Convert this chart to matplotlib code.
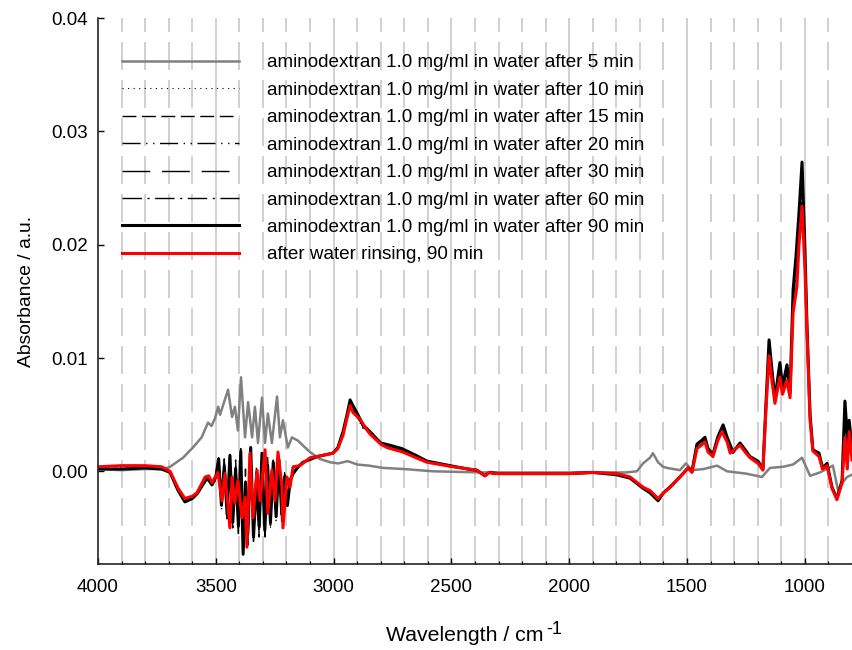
import matplotlib
matplotlib.use('Agg')
import matplotlib.pyplot as plt
from matplotlib.ticker import MultipleLocator, FormatStrFormatter

plt.rcParams['font.family'] = ['Liberation Sans', 'DejaVu Sans']

# aminodextran 5 min (grey)
wn_5 = [4000, 3900, 3800, 3720, 3694, 3639, 3597, 3560, 3533, 3518,
        3503, 3490, 3482, 3448, 3431, 3419, 3406, 3393, 3376, 3363,
        3346, 3334, 3321, 3304, 3291, 3279, 3262, 3240, 3228, 3215,
        3194, 3177, 3151, 3121, 3100, 3060, 3015, 2980, 2940,
        2900, 2850, 2790, 2700, 2578, 2366, 2200, 2000, 1870, 1760,
        1713, 1687, 1657, 1645, 1623, 1602, 1585, 1530, 1505, 1479,
        1430, 1373, 1330, 1250, 1182, 1148, 1093, 1050, 1012, 978,
        936, 881, 859, 840, 821, 800]
a_5 = [0.0002, 0.0001, 0.0002, 0.0002, 0.0004, 0.0012, 0.0021, 0.0030, 0.0043, 0.0040,
       0.0047, 0.0057, 0.0050, 0.0072, 0.0048, 0.0057, 0.0036, 0.0083, 0.0030, 0.0061,
       0.0030, 0.0057, 0.0025, 0.0065, 0.0025, 0.0051, 0.0025, 0.0066, 0.0030, 0.0045,
       0.0021, 0.0030, 0.0027, 0.0021, 0.0017, 0.0011, 0.0008, 0.0007, 0.0009,
       0.0006, 0.0005, 0.0003, 0.0002, 0.0000, -0.0001, -0.0001, -0.0001, -0.0001, -0.0001,
       0.0000, 0.0007, 0.0012, 0.0016, 0.0008, 0.0004, 0.0003, 0.0001, 0.0007, 0.0001,
       0.0002, 0.0005, 0.0000, -0.0002, -0.0005, 0.0003, 0.0004, 0.0006, 0.0012, -0.0004,
       -0.0001, 0.0005, -0.0017, -0.0010, -0.0005, -0.0003]

# common wavenumber grid for the 10 - 90 min spectra
wn_ad = [4000, 3900, 3800, 3730, 3694, 3660, 3631, 3600, 3580, 3537,
         3516, 3500, 3488, 3476, 3464, 3452, 3440, 3428, 3416, 3404,
         3394, 3384, 3374, 3364, 3352, 3340, 3328, 3316, 3304, 3292,
         3280, 3268, 3256, 3244, 3232, 3220, 3208, 3196, 3184, 3172,
         3150, 3130, 3070, 3003, 2982, 2960, 2943, 2930, 2918, 2897,
         2876, 2846, 2800, 2761, 2710, 2650, 2604, 2506, 2430, 2392,
         2358, 2340, 2300, 2200, 2100, 2000, 1900, 1800, 1742, 1687,
         1657, 1623, 1600, 1572, 1517, 1496, 1479, 1458, 1440, 1424,
         1411, 1390, 1370, 1347, 1330, 1305, 1275, 1250, 1233, 1199,
         1178, 1165, 1152, 1140, 1127, 1106, 1095, 1076, 1063, 1050,
         1038, 1025, 1012, 1000, 991, 978, 966, 940, 925, 906,
         885, 864, 842, 830, 820, 812, 800]

a_10 = [0.0003, 0.0003, 0.0003, 0.0003, 0.0000, -0.0015, -0.0025, -0.0023, -0.0019, -0.0005,
        -0.0010, -0.0002, 0.0006, -0.0022, 0.0009, -0.0031, 0.0010, -0.0040, 0.0006, -0.0044,
        0.0012, -0.0066, -0.0004, -0.0060, 0.0015, -0.0050, -0.0004, -0.0055, 0.0010, -0.0044,
        0.0009, -0.0050, 0.0003, -0.0035, 0.0006, -0.0042, 0.0000, -0.0026, -0.0010, 0.0000,
        0.0005, 0.0008, 0.0013, 0.0016, 0.0020, 0.0032, 0.0047, 0.0058, 0.0053, 0.0046,
        0.0038, 0.0033, 0.0024, 0.0021, 0.0018, 0.0013, 0.0008, 0.0004, 0.0002, 0.0001,
        -0.0004, -0.0001, -0.0002, -0.0002, -0.0002, -0.0002, -0.0001, -0.0002, -0.0005, -0.0014,
        -0.0017, -0.0024, -0.0018, -0.0013, -0.0002, 0.0003, -0.0001, 0.0020, 0.0023, 0.0026,
        0.0017, 0.0013, 0.0027, 0.0036, 0.0026, 0.0016, 0.0023, 0.0016, 0.0012, 0.0007,
        0.0001, 0.0055, 0.0104, 0.0081, 0.0060, 0.0085, 0.0068, 0.0082, 0.0065, 0.0142,
        0.0168, 0.0202, 0.0233, 0.0182, 0.0128, 0.0045, 0.0018, 0.0013, 0.0002, 0.0005,
        -0.0015, -0.0025, -0.0010, 0.0035, 0.0005, 0.0035, 0.0012]
a_15 = [0.0002, 0.0002, 0.0003, 0.0003, -0.0001, -0.0016, -0.0026, -0.0023, -0.0019, -0.0006,
        -0.0011, -0.0008, 0.0004, -0.0026, 0.0011, -0.0034, 0.0006, -0.0050, 0.0010, -0.0040,
        0.0008, -0.0060, 0.0002, -0.0065, 0.0012, -0.0045, 0.0004, -0.0058, 0.0006, -0.0040,
        0.0012, -0.0048, 0.0000, -0.0032, 0.0009, -0.0046, -0.0004, -0.0022, -0.0012, 0.0000,
        0.0004, 0.0008, 0.0013, 0.0016, 0.0020, 0.0033, 0.0048, 0.0060, 0.0055, 0.0047,
        0.0039, 0.0034, 0.0024, 0.0022, 0.0019, 0.0013, 0.0008, 0.0004, 0.0002, 0.0001,
        -0.0004, -0.0001, -0.0002, -0.0002, -0.0002, -0.0002, -0.0001, -0.0003, -0.0005, -0.0014,
        -0.0018, -0.0025, -0.0018, -0.0013, -0.0002, 0.0003, 0.0000, 0.0021, 0.0024, 0.0027,
        0.0018, 0.0014, 0.0028, 0.0038, 0.0027, 0.0016, 0.0024, 0.0017, 0.0012, 0.0008,
        0.0001, 0.0057, 0.0108, 0.0085, 0.0062, 0.0089, 0.0071, 0.0087, 0.0066, 0.0148,
        0.0176, 0.0212, 0.0245, 0.0188, 0.0130, 0.0046, 0.0018, 0.0014, 0.0002, 0.0006,
        -0.0014, -0.0024, -0.0009, 0.0048, 0.0015, 0.0040, 0.0015]
a_20 = [0.0002, 0.0002, 0.0003, 0.0002, -0.0001, -0.0016, -0.0026, -0.0024, -0.0020, -0.0006,
        -0.0012, -0.0003, 0.0008, -0.0034, 0.0002, -0.0042, 0.0012, -0.0038, 0.0000, -0.0055,
        0.0015, -0.0068, -0.0008, -0.0050, 0.0018, -0.0062, -0.0002, -0.0045, 0.0012, -0.0058,
        0.0002, -0.0042, 0.0010, -0.0045, 0.0004, -0.0035, -0.0002, -0.0028, -0.0006, -0.0001,
        0.0004, 0.0008, 0.0013, 0.0016, 0.0021, 0.0034, 0.0049, 0.0061, 0.0056, 0.0048,
        0.0040, 0.0034, 0.0025, 0.0022, 0.0019, 0.0014, 0.0009, 0.0005, 0.0002, 0.0001,
        -0.0004, -0.0001, -0.0002, -0.0002, -0.0002, -0.0002, -0.0001, -0.0003, -0.0006, -0.0015,
        -0.0018, -0.0025, -0.0019, -0.0014, -0.0002, 0.0003, 0.0000, 0.0022, 0.0025, 0.0028,
        0.0019, 0.0014, 0.0029, 0.0039, 0.0028, 0.0017, 0.0024, 0.0017, 0.0013, 0.0008,
        0.0002, 0.0058, 0.0111, 0.0087, 0.0063, 0.0092, 0.0073, 0.0090, 0.0067, 0.0152,
        0.0181, 0.0220, 0.0252, 0.0192, 0.0132, 0.0047, 0.0019, 0.0015, 0.0003, 0.0006,
        -0.0014, -0.0024, -0.0008, 0.0052, 0.0020, 0.0042, 0.0017]
a_30 = [0.0002, 0.0002, 0.0003, 0.0002, -0.0001, -0.0017, -0.0027, -0.0024, -0.0020, -0.0006,
        -0.0012, -0.0006, 0.0010, -0.0028, 0.0006, -0.0036, 0.0015, -0.0044, 0.0004, -0.0046,
        0.0020, -0.0070, -0.0012, -0.0052, 0.0019, -0.0056, -0.0008, -0.0052, 0.0014, -0.0050,
        0.0006, -0.0047, 0.0007, -0.0038, 0.0011, -0.0040, -0.0004, -0.0029, -0.0007, -0.0002,
        0.0004, 0.0008, 0.0013, 0.0016, 0.0021, 0.0034, 0.0049, 0.0062, 0.0057, 0.0049,
        0.0040, 0.0035, 0.0025, 0.0023, 0.0020, 0.0014, 0.0009, 0.0005, 0.0002, 0.0001,
        -0.0004, -0.0001, -0.0002, -0.0002, -0.0002, -0.0002, -0.0001, -0.0003, -0.0006, -0.0015,
        -0.0019, -0.0026, -0.0019, -0.0014, -0.0002, 0.0003, 0.0000, 0.0023, 0.0026, 0.0029,
        0.0019, 0.0015, 0.0029, 0.0040, 0.0029, 0.0017, 0.0025, 0.0018, 0.0013, 0.0009,
        0.0002, 0.0059, 0.0113, 0.0088, 0.0064, 0.0094, 0.0074, 0.0092, 0.0068, 0.0156,
        0.0185, 0.0225, 0.0260, 0.0196, 0.0134, 0.0048, 0.0019, 0.0016, 0.0003, 0.0007,
        -0.0014, -0.0024, -0.0008, 0.0056, 0.0025, 0.0043, 0.0018]
a_60 = [0.0002, 0.0002, 0.0003, 0.0002, -0.0001, -0.0017, -0.0027, -0.0024, -0.0020, -0.0006,
        -0.0012, -0.0004, 0.0012, -0.0032, 0.0004, -0.0040, 0.0013, -0.0047, 0.0001, -0.0050,
        0.0017, -0.0074, -0.0009, -0.0057, 0.0020, -0.0060, -0.0011, -0.0050, 0.0015, -0.0054,
        0.0004, -0.0046, 0.0008, -0.0041, 0.0010, -0.0039, -0.0005, -0.0031, -0.0008, -0.0002,
        0.0004, 0.0008, 0.0013, 0.0016, 0.0021, 0.0035, 0.0050, 0.0063, 0.0058, 0.0050,
        0.0041, 0.0035, 0.0025, 0.0023, 0.0020, 0.0014, 0.0009, 0.0005, 0.0002, 0.0001,
        -0.0004, -0.0001, -0.0002, -0.0002, -0.0002, -0.0002, -0.0001, -0.0003, -0.0006, -0.0015,
        -0.0019, -0.0026, -0.0019, -0.0014, -0.0002, 0.0003, 0.0000, 0.0024, 0.0027, 0.0030,
        0.0020, 0.0015, 0.0030, 0.0041, 0.0030, 0.0017, 0.0025, 0.0018, 0.0013, 0.0009,
        0.0002, 0.0060, 0.0115, 0.0089, 0.0064, 0.0095, 0.0075, 0.0093, 0.0069, 0.0158,
        0.0188, 0.0228, 0.0266, 0.0198, 0.0135, 0.0048, 0.0019, 0.0016, 0.0003, 0.0007,
        -0.0014, -0.0024, -0.0008, 0.0060, 0.0028, 0.0044, 0.0019]
a_90 = [0.0002, 0.0002, 0.0003, 0.0002, -0.0001, -0.0017, -0.0027, -0.0024, -0.0020, -0.0006,
        -0.0012, -0.0005, 0.0011, -0.0030, 0.0005, -0.0038, 0.0014, -0.0045, 0.0002, -0.0048,
        0.0018, -0.0073, -0.0010, -0.0055, 0.0021, -0.0058, -0.0010, -0.0049, 0.0016, -0.0052,
        0.0005, -0.0045, 0.0008, -0.0040, 0.0010, -0.0038, -0.0005, -0.0030, -0.0008, -0.0002,
        0.0004, 0.0008, 0.0013, 0.0016, 0.0021, 0.0035, 0.0050, 0.0063, 0.0058, 0.0050,
        0.0041, 0.0035, 0.0025, 0.0023, 0.0020, 0.0014, 0.0009, 0.0005, 0.0002, 0.0001,
        -0.0004, -0.0001, -0.0002, -0.0002, -0.0002, -0.0002, -0.0001, -0.0003, -0.0006, -0.0015,
        -0.0019, -0.0026, -0.0019, -0.0014, -0.0002, 0.0003, 0.0000, 0.0024, 0.0027, 0.0030,
        0.0020, 0.0015, 0.0030, 0.0041, 0.0030, 0.0017, 0.0025, 0.0018, 0.0013, 0.0009,
        0.0002, 0.0060, 0.0116, 0.0090, 0.0064, 0.0096, 0.0075, 0.0094, 0.0069, 0.0160,
        0.0189, 0.0228, 0.0273, 0.0198, 0.0128, 0.0050, 0.0019, 0.0016, 0.0003, 0.0007,
        -0.0014, -0.0024, -0.0008, 0.0062, 0.0030, 0.0045, 0.0020]

# after water rinsing (red)
wn_rinse = [4000, 3900, 3800, 3730, 3694, 3660, 3631, 3600, 3580, 3545,
            3530, 3516, 3491, 3474, 3461, 3440, 3431, 3419, 3406, 3389,
            3376, 3368, 3355, 3342, 3325, 3312, 3291, 3279, 3262, 3249,
            3236, 3219, 3215, 3198, 3185, 3172, 3143, 3100, 3070, 3003,
            2982, 2960, 2943, 2930, 2918, 2888, 2860, 2846, 2800, 2774,
            2706, 2650, 2604, 2493, 2392, 2358, 2340, 2324, 2200, 2000,
            1900, 1797, 1742, 1687, 1657, 1623, 1600, 1572, 1517, 1496,
            1479, 1458, 1440, 1424, 1411, 1390, 1370, 1352, 1330, 1317,
            1275, 1250, 1233, 1199, 1178, 1165, 1152, 1140, 1127, 1106,
            1095, 1076, 1063, 1050, 1034, 1025, 1012, 1000, 991, 978,
            966, 940, 925, 906, 885, 864, 842, 830, 820, 812, 800]
a_rinse = [0.0004, 0.0005, 0.0005, 0.0004, 0.0000, -0.0015, -0.0024, -0.0022, -0.0019, -0.0005,
           -0.0004, -0.0010, -0.0001, -0.0026, -0.0002, -0.0050, -0.0005, -0.0028, -0.0008, -0.0041,
           -0.0023, -0.0067, 0.0016, -0.0041, 0.0001, -0.0026, 0.0019, -0.0037, 0.0001, -0.0026,
           0.0017, -0.0014, -0.0050, -0.0005, -0.0014, 0.0004, 0.0005, 0.0012, 0.0013, 0.0016,
           0.0020, 0.0032, 0.0047, 0.0058, 0.0052, 0.0046, 0.0037, 0.0033, 0.0024, 0.0021,
           0.0017, 0.0012, 0.0008, 0.0004, 0.0001, -0.0004, -0.0001, -0.0002, -0.0002, -0.0002,
           -0.0001, -0.0002, -0.0005, -0.0014, -0.0017, -0.0024, -0.0019, -0.0014, -0.0002, 0.0003,
           -0.0001, 0.0020, 0.0023, 0.0026, 0.0017, 0.0013, 0.0027, 0.0035, 0.0026, 0.0016,
           0.0023, 0.0016, 0.0012, 0.0007, 0.0001, 0.0055, 0.0102, 0.0080, 0.0060, 0.0083,
           0.0068, 0.0080, 0.0065, 0.0140, 0.0163, 0.0200, 0.0234, 0.0180, 0.0122, 0.0045,
           0.0018, 0.0013, 0.0002, 0.0005, -0.0015, -0.0025, -0.0010, 0.0030, 0.0002, 0.0035, 0.0010]

labels = ['aminodextran 1.0 mg/ml in water after 5 min',
          'aminodextran 1.0 mg/ml in water after 10 min',
          'aminodextran 1.0 mg/ml in water after 15 min',
          'aminodextran 1.0 mg/ml in water after 20 min',
          'aminodextran 1.0 mg/ml in water after 30 min',
          'aminodextran 1.0 mg/ml in water after 60 min',
          'aminodextran 1.0 mg/ml in water after 90 min',
          'after water rinsing, 90 min']

fig = plt.figure(figsize=(8.52, 6.5), dpi=100)
ax = fig.add_axes([0.115, 0.132, 0.885, 0.84])

# vertical grid, solid every 500, dashed every 100
for g in range(3900, 850, -100):
    if g % 500 == 0:
        ax.axvline(g, color='#c8c8c8', lw=1.2, zorder=0)
    else:
        ax.axvline(g, color='#c8c8c8', lw=1.2, ls=(0, (16.8, 6.0)), zorder=0)

ax.plot(wn_5, a_5, color='#808080', lw=1.8, label=labels[0])
ax.plot(wn_ad, a_10, color='black', lw=0.8, ls=(0, (1, 4)), label=labels[1])
ax.plot(wn_ad, a_15, color='black', lw=1.0, ls=(0, (10, 4)), label=labels[2])
ax.plot(wn_ad, a_20, color='black', lw=1.0, ls=(0, (13, 4, 1, 4, 1, 4)), label=labels[3])
ax.plot(wn_ad, a_30, color='black', lw=1.0, ls=(0, (20, 8.5)), label=labels[4])
ax.plot(wn_ad, a_60, color='black', lw=1.0, ls=(0, (14, 4, 1.5, 4)), label=labels[5])
ax.plot(wn_ad, a_90, color='black', lw=2.2, label=labels[6])
ax.plot(wn_rinse, a_rinse, color='#ff0000', lw=2.2, label=labels[7])

ax.set_xlim(4000, 800)
ax.set_ylim(-0.0082, 0.04)
ax.xaxis.set_major_locator(MultipleLocator(500))
ax.xaxis.set_minor_locator(MultipleLocator(100))
ax.yaxis.set_major_locator(MultipleLocator(0.01))
ax.yaxis.set_major_formatter(FormatStrFormatter('%.2f'))
ax.tick_params(axis='x', which='major', direction='in', length=4, width=1, pad=10.5, labelsize=13.5)
ax.tick_params(axis='x', which='minor', direction='in', length=2.5, width=0.8)
ax.tick_params(axis='y', which='major', direction='in', length=4.5, width=1, pad=7, labelsize=13.5)

for s in ['top', 'right']:
    ax.spines[s].set_visible(False)
for s in ['left', 'bottom']:
    ax.spines[s].set_linewidth(1.2)
    ax.spines[s].set_color('#222222')

# x label with a plain hyphen superscript, as in the original
fig.text(386 / 852, 1 - 641 / 650, 'Wavelength / cm', ha='left', va='baseline', fontsize=15.3)
fig.text(546 / 852, 1 - 634 / 650, '-1', ha='left', va='baseline', fontsize=13)
ax.set_ylabel('Absorbance / a.u.', fontsize=13.9, labelpad=12)

ax.legend(loc='upper left', bbox_to_anchor=(0.032, 0.934), frameon=False,
          fontsize=13.6, handlelength=6.2, handletextpad=1.48, labelspacing=0.54,
          borderpad=0, borderaxespad=0)

fig.savefig('out.png', dpi=100)
